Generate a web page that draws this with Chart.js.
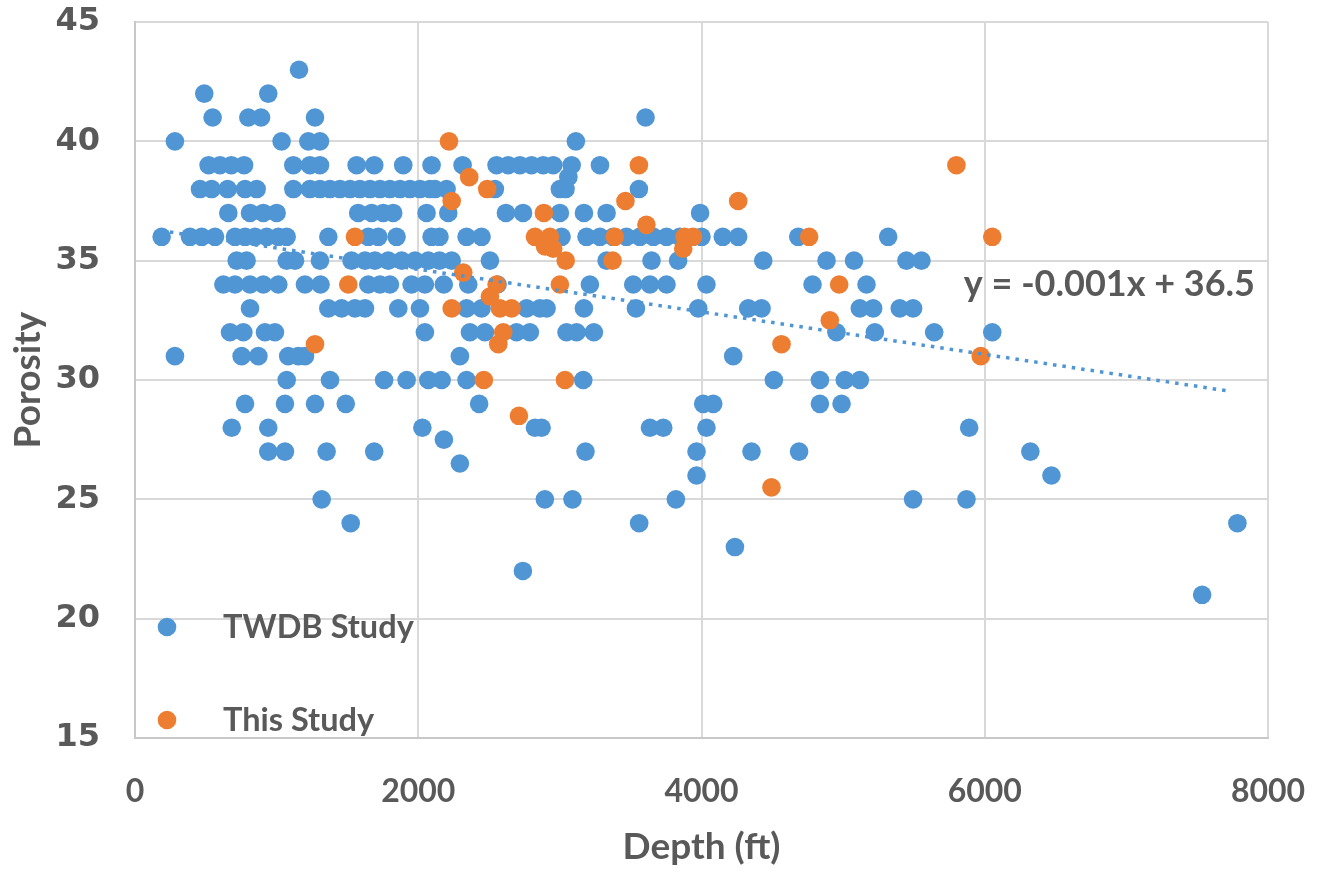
<!DOCTYPE html>
<html><head><meta charset="utf-8">
<script src="https://cdn.jsdelivr.net/npm/chart.js@4/dist/chart.umd.min.js"></script>
<style>html,body{margin:0;padding:0;background:#fff;}#wrap{width:1325px;height:871px;}</style>
</head><body><div id="wrap"><canvas id="c" width="1325" height="871"></canvas></div>
<script>
// ---- Data ----
const seriesNames = ["TWDB Study", "This Study"];
const twdbDepth = [
 1158,
 489, 941,
 548, 800, 890, 1271, 3605,
 282, 1035, 1224, 1306, 3113,
 520, 600, 680, 770, 1118, 1235, 1306, 1565, 1689, 1894, 2094, 2313, 2553, 2635, 2718, 2800, 2882, 2953, 3083, 3283,
 3060,
 459, 541, 654, 777, 859, 1118, 1235, 1306, 1376, 1447, 1518, 1588, 1659, 1730, 1800, 1871, 1941, 2012, 2082, 2118, 2200, 2541, 3000, 3040, 3558,
 659, 812, 906, 1000, 1576, 1671, 1753, 1823, 2059, 2212, 2619, 2740, 3000, 3170, 3330, 3990,
 188, 388, 471, 565, 706, 777, 847, 930, 1012, 1071, 1365, 1647, 1718, 1847, 2094, 2150, 2341, 2447, 3012, 3188, 3283, 3376, 3470, 3565, 3660, 3753, 3847, 4000, 4150, 4259, 4683, 5318,
 718, 788, 1071, 1130, 1306, 1529, 1624, 1694, 1788, 1883, 1977, 2071, 2150, 2236, 2506, 3330, 3647, 3835, 4436, 4883, 5077, 5447, 5553,
 624, 706, 812, 906, 1012, 1200, 1310, 1647, 1730, 1800, 1953, 2047, 2180, 2353, 2560, 3212, 3518, 3636, 3753, 4035, 4784, 5165,
 812, 1365, 1459, 1553, 1624, 1859, 2012, 2341, 2447, 2765, 2859, 2906, 3170, 3537, 3977, 4330, 4424, 5118, 5212, 5400, 5494,
 671, 765, 918, 988, 2047, 2365, 2471, 2694, 2788, 3047, 3118, 3240, 4953, 5224, 5643, 6053,
 282, 753, 871, 1082, 1153, 1200, 2294, 4224,
 1071, 1377, 1759, 1918, 2071, 2165, 2341, 3165, 4511, 4836, 5012, 5118,
 777, 1059, 1271, 1488, 2430, 4012, 4083, 4836, 4989,
 683, 941, 2029, 2824, 2871, 3636, 3730, 4035, 5890,
 2181,
 941, 1059, 1353, 1689, 3181, 3965, 4353, 4689, 6322,
 2294,
 3965, 6471,
 1318, 2894, 3089, 3819, 5494, 5871,
 1523, 3560, 7784,
 4236,
 2739,
 7535
];
const twdbPorosity = [
 43,
 42, 42,
 41, 41, 41, 41, 41,
 40, 40, 40, 40, 40,
 39, 39, 39, 39, 39, 39, 39, 39, 39, 39, 39, 39, 39, 39, 39, 39, 39, 39, 39, 39,
 38.5,
 38, 38, 38, 38, 38, 38, 38, 38, 38, 38, 38, 38, 38, 38, 38, 38, 38, 38, 38, 38, 38, 38, 38, 38, 38,
 37, 37, 37, 37, 37, 37, 37, 37, 37, 37, 37, 37, 37, 37, 37, 37,
 36, 36, 36, 36, 36, 36, 36, 36, 36, 36, 36, 36, 36, 36, 36, 36, 36, 36, 36, 36, 36, 36, 36, 36, 36, 36, 36, 36, 36, 36, 36, 36,
 35, 35, 35, 35, 35, 35, 35, 35, 35, 35, 35, 35, 35, 35, 35, 35, 35, 35, 35, 35, 35, 35, 35,
 34, 34, 34, 34, 34, 34, 34, 34, 34, 34, 34, 34, 34, 34, 34, 34, 34, 34, 34, 34, 34, 34,
 33, 33, 33, 33, 33, 33, 33, 33, 33, 33, 33, 33, 33, 33, 33, 33, 33, 33, 33, 33, 33,
 32, 32, 32, 32, 32, 32, 32, 32, 32, 32, 32, 32, 32, 32, 32, 32,
 31, 31, 31, 31, 31, 31, 31, 31,
 30, 30, 30, 30, 30, 30, 30, 30, 30, 30, 30, 30,
 29, 29, 29, 29, 29, 29, 29, 29, 29,
 28, 28, 28, 28, 28, 28, 28, 28, 28,
 27.5,
 27, 27, 27, 27, 27, 27, 27, 27, 27,
 26.5,
 26, 26,
 25, 25, 25, 25, 25, 25,
 24, 24, 24,
 23,
 22,
 21
];
const thisDepth = [2217, 3558, 5800, 2360, 2487, 2236, 3463, 4259, 2887, 3611, 1553, 2824, 2930, 3388, 3880, 3940, 4760, 6053,
 2895, 2953, 3871, 3041, 3372, 2318, 1506, 2553, 3000, 4972, 2506, 2236, 2577, 2659, 4906, 2600, 1271, 2565, 4565, 5972, 2463, 3036, 2711, 4494];
const thisPorosity = [40, 39, 39, 38.5, 38, 37.5, 37.5, 37.5, 37, 36.5, 36, 36, 36, 36, 36, 36, 36, 36,
 35.6, 35.5, 35.5, 35, 35, 34.5, 34, 34, 34, 34, 33.5, 33, 33, 33, 32.5, 32, 31.5, 31.5, 31.5, 31, 30, 30, 28.5, 25.5];
const trendDepth = [180, 7730];
const trendPorosity = [36.26, 29.53];
const trendLabel = "y = -0.001x + 36.5";
const xTicks = [0, 2000, 4000, 6000, 8000];
const yTicks = [15, 20, 25, 30, 35, 40, 45];

const BLUE = '#5096D4', ORANGE = '#ED7D31', TXT = '#595959', GRID = '#D9D9D9';
const toPts = (xs, ys) => xs.map((x, i) => ({x: x, y: ys[i]}));

const overlay = {
  id: 'overlay',
  afterDraw(chart) {
    const ctx = chart.ctx, a = chart.chartArea;
    ctx.save();
    // equation label
    ctx.fillStyle = TXT;
    ctx.font = 'bold 36px Lato';
    ctx.textAlign = 'right';
    ctx.textBaseline = 'middle';
    ctx.fillText(trendLabel, a.right - 13, a.top + 262);
    // legend
    const items = [[seriesNames[0], BLUE, a.bottom - 111], [seriesNames[1], ORANGE, a.bottom - 18]];
    ctx.textAlign = 'left';
    ctx.font = 'bold 32.5px Lato';
    items.forEach(([label, col, y]) => {
      ctx.beginPath();
      ctx.arc(a.left + 32, y, 9.3, 0, Math.PI * 2);
      ctx.fillStyle = col;
      ctx.fill();
      ctx.fillStyle = TXT;
      ctx.fillText(label, a.left + 88, y + 1);
    });
    ctx.restore();
  }
};

const zeroPad = ax => { ax.paddingLeft = 0; ax.paddingRight = 0; ax.paddingTop = 0; ax.paddingBottom = 0; };

new Chart(document.getElementById('c'), {
  type: 'scatter',
  data: {
    datasets: [
      {label: 'trend', type: 'line', data: toPts(trendDepth, trendPorosity), borderColor: BLUE, borderWidth: 3.5,
       borderDash: [3.5, 6], pointRadius: 0, fill: false, order: 0},
      {label: seriesNames[1], data: toPts(thisDepth, thisPorosity), backgroundColor: ORANGE, pointRadius: 9.3,
       pointBorderWidth: 0, pointHoverRadius: 9.3, order: 1},
      {label: seriesNames[0], data: toPts(twdbDepth, twdbPorosity), backgroundColor: BLUE, pointRadius: 9.3,
       pointBorderWidth: 0, pointHoverRadius: 9.3, order: 2}
    ]
  },
  options: {
    responsive: false,
    animation: false,
    devicePixelRatio: 1,
    layout: {padding: {left: 0, right: 57, top: 22, bottom: 0}},
    plugins: {legend: {display: false}, tooltip: {enabled: false}},
    scales: {
      x: {
        type: 'linear', min: xTicks[0], max: xTicks[xTicks.length - 1],
        afterBuildTicks: ax => { ax.ticks = xTicks.map(v => ({value: v})); },
        afterFit: ax => { ax.height = 133; zeroPad(ax); },
        ticks: {color: TXT, font: {family: 'Lato', size: 32, weight: 'bold'}, padding: 34, callback: v => String(v)},
        grid: {color: GRID, lineWidth: 2, drawTicks: false},
        border: {color: '#C8C8C8', width: 2},
        title: {display: true, text: 'Depth (ft)', color: TXT, font: {family: 'Lato', size: 37, weight: 'bold'}, padding: {top: 0, bottom: 2}}
      },
      y: {
        type: 'linear', min: yTicks[0], max: yTicks[yTicks.length - 1],
        afterBuildTicks: ax => { ax.ticks = yTicks.map(v => ({value: v})); },
        afterFit: ax => { ax.width = 135; zeroPad(ax); },
        ticks: {color: TXT, font: {family: 'DejaVu Sans', size: 32, weight: 'bold'}, padding: 35, callback: v => String(v)},
        grid: {color: GRID, lineWidth: 2, drawTicks: false},
        border: {color: '#C8C8C8', width: 2},
        title: {display: true, text: 'Porosity', color: TXT, font: {family: 'Lato', size: 37, weight: 'bold'}, padding: {top: 6, bottom: 0}}
      }
    }
  },
  plugins: [overlay]
});
</script></body></html>
